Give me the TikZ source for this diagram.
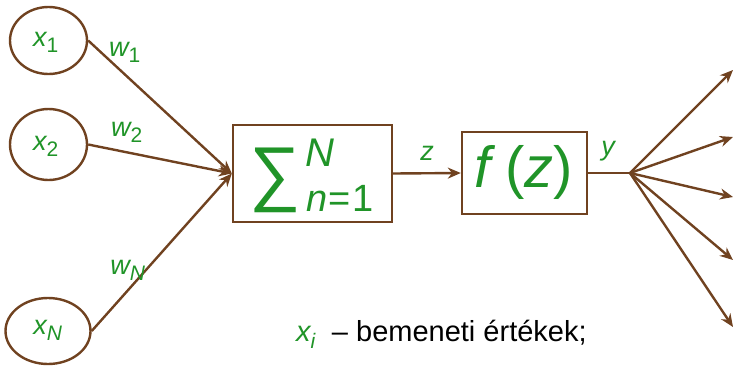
\documentclass[tikz,border=0pt]{standalone}
\usepackage{fontspec}
\setmainfont{Liberation Sans}
\usetikzlibrary{shapes.geometric,arrows.meta}
\definecolor{brn}{RGB}{112,66,32}
\definecolor{grn}{RGB}{32,148,40}
\tikzset{
  inp/.style={ellipse,draw=brn,line width=2.4pt,inner sep=0pt},
  blk/.style={rectangle,draw=brn,line width=2.4pt,inner sep=0pt,fill=white},
  con/.style={draw=brn,line width=2.4pt},
  arr/.style={con,-{Stealth[length=13pt,width=11pt]}},
  gtxt/.style={text=grn,inner sep=0pt,font=\fontsize{27}{28}\selectfont\itshape},
}
\newcommand{\sbs}[1]{\textsubscript{\fontsize{21}{22}\selectfont\upshape #1}}
\newcommand{\sbi}[1]{\textsubscript{\fontsize{21}{22}\selectfont\itshape #1}}
\begin{document}
\begin{tikzpicture}[x=1pt,y=-1pt]
\useasboundingbox (0,0) rectangle (734,365);
% inputs
\node[inp,minimum width=77pt,minimum height=67pt] (x1) at (48.5,40.5) {};
\node[inp,minimum width=77pt,minimum height=71pt] (x2) at (48.5,144.5) {};
\node[inp,minimum width=85pt,minimum height=66pt] (xN) at (48,331) {};
\node[gtxt] (lx1) at (46,42) {x\sbs{1}};
\node[gtxt] (lx2) at (46,146) {x\sbs{2}};
\node[gtxt] (lxN) at (48,330) {x\sbi{N}};
% blocks
\node[blk,minimum width=159pt,minimum height=97pt] (sum) at (312.5,173.5) {};
\node[blk,minimum width=125pt,minimum height=82pt] (f) at (524.5,173) {};
\coordinate (hub) at (630,173);
\coordinate (o1) at (733,70);
\coordinate (o2) at (733,137);
\coordinate (o3) at (733,197);
\coordinate (o4) at (733,260);
\coordinate (o5) at (733,327);
% sum content
\node[text=grn,inner sep=0pt,font=\fontsize{72}{72}\selectfont] (sig) at (275,180) {∑};
\node[text=grn,inner sep=0pt,font=\fontsize{40}{40}\selectfont\itshape] (supN) at (320,153) {N};
\node[text=grn,inner sep=0pt,font=\fontsize{38}{38}\selectfont] (subn) at (340,198) {\textit{n}\kern1pt=\kern1pt1};
\node[text=grn,inner sep=0pt,font=\fontsize{58}{58}\selectfont] (fz) at (524,172) {\textit{f}\,(\textit{z})};
% connectors
\draw[arr] (x1.east) -- (sum.west);
\draw[arr] (x2.east) -- (sum.west);
\draw[arr] (xN.east) -- (sum.west);
\draw[arr] (sum.east) -- (f.west);
\draw[con] (f.east) -- (hub);
\foreach \o in {o1,o2,o3,o4,o5} \draw[arr] (hub) -- (\o);
% weights
\node[gtxt] (w1) at (125,52) {w\sbs{1}};
\node[gtxt] (w2) at (127,132) {w\sbs{2}};
\node[gtxt] (wN) at (128,270) {w\sbi{N}};
\node[gtxt] (lz) at (427,153) {z};
\node[gtxt] (ly) at (608,151) {y};
% legend
\node[anchor=west,inner sep=0pt,font=\fontsize{29}{30}\selectfont] (leg) at (296,334) {\textcolor{grn}{\itshape x\textsubscript{\fontsize{21}{21}\selectfont i}}\ \ – bemeneti értékek;};
\end{tikzpicture}
\end{document}
